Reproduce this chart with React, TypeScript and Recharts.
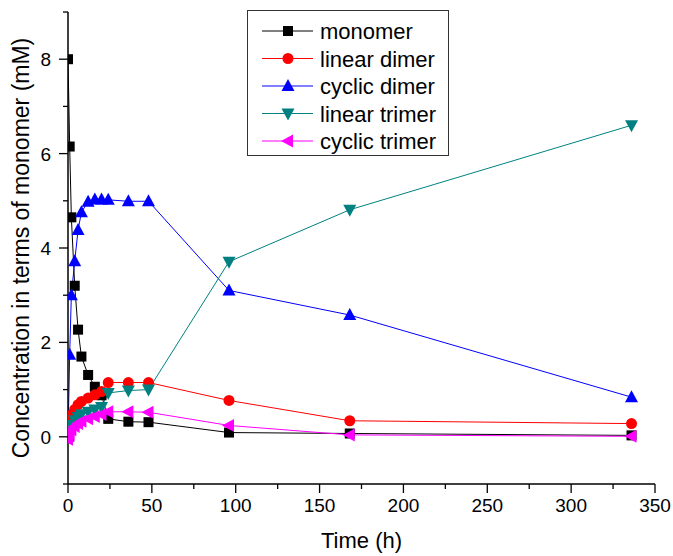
import React from 'react';
import { LineChart, Line, XAxis, YAxis, Legend } from 'recharts';

// sampling times (h)
const times = [0, 1, 2, 4, 6, 8, 12, 16, 20, 24, 36, 48, 96, 168, 336];

// concentrations in terms of monomer (mM)
const monomer = [8.0, 6.15, 4.65, 3.2, 2.27, 1.7, 1.31, 1.06, 0.88, 0.38, 0.32, 0.31, 0.09, 0.07, 0.03];
const linearDimer = [0, 0.3, 0.46, 0.58, 0.68, 0.75, 0.82, 0.89, 0.96, 1.15, 1.15, 1.15, 0.77, 0.34, 0.28];
const cyclicDimer = [0, 1.74, 3.0, 3.72, 4.38, 4.76, 4.98, 5.03, 5.03, 5.02, 4.99, 4.99, 3.1, 2.58, 0.84];
const linearTrimer = [0, 0.12, 0.25, 0.35, 0.42, 0.48, 0.53, 0.58, 0.63, 0.93, 0.98, 1.0, 3.71, 4.81, 6.6];
const cyclicTrimer = [-0.05, 0.05, 0.15, 0.22, 0.28, 0.33, 0.38, 0.43, 0.47, 0.53, 0.53, 0.52, 0.24, 0.04, 0.01];

const xTicks = [0, 25, 50, 75, 100, 125, 150, 175, 200, 225, 250, 275, 300, 325, 350];
const yTicks = [-1, 0, 1, 2, 3, 4, 5, 6, 7, 8, 9];

type Shape = 'square' | 'circle' | 'up' | 'down' | 'left';

const series: { key: string; name: string; color: string; shape: Shape; values: number[] }[] = [
  { key: 'monomer', name: 'monomer', color: '#000000', shape: 'square', values: monomer },
  { key: 'linearDimer', name: 'linear dimer', color: '#ff0000', shape: 'circle', values: linearDimer },
  { key: 'cyclicDimer', name: 'cyclic dimer', color: '#0000ff', shape: 'up', values: cyclicDimer },
  { key: 'linearTrimer', name: 'linear trimer', color: '#008080', shape: 'down', values: linearTrimer },
  { key: 'cyclicTrimer', name: 'cyclic trimer', color: '#ff00ff', shape: 'left', values: cyclicTrimer },
];

const data = times.map((t, i) => {
  const row: Record<string, number> = { t };
  series.forEach((s) => {
    row[s.key] = s.values[i];
  });
  return row;
});

const FONT = '"Liberation Sans", Arial, sans-serif';

const Marker = ({ cx, cy, shape, color }: { cx: number; cy: number; shape: Shape; color: string }) => {
  switch (shape) {
    case 'square':
      return <rect x={cx - 5} y={cy - 5} width={10} height={10} fill={color} />;
    case 'circle':
      return <circle cx={cx} cy={cy} r={5.5} fill={color} />;
    case 'up':
      return <polygon points={`${cx},${cy - 7} ${cx + 6.5},${cy + 5} ${cx - 6.5},${cy + 5}`} fill={color} />;
    case 'down':
      return <polygon points={`${cx},${cy + 7} ${cx + 6.5},${cy - 5} ${cx - 6.5},${cy - 5}`} fill={color} />;
    default:
      return <polygon points={`${cx - 7},${cy} ${cx + 5},${cy - 6.5} ${cx + 5},${cy + 6.5}`} fill={color} />;
  }
};

const XTick = (props: any) => {
  const { x, y, payload } = props;
  const major = payload.value % 50 === 0;
  return (
    <g>
      <line x1={x} y1={y} x2={x} y2={y + (major ? 9 : 5)} stroke="#000" strokeWidth={1.3} />
      {major && (
        <text x={x} y={y + 28} textAnchor="middle" fontSize={19} fontFamily={FONT} fill="#000">
          {payload.value}
        </text>
      )}
    </g>
  );
};

const YTick = (props: any) => {
  const { x, y, payload } = props;
  const major = payload.value % 2 === 0;
  return (
    <g>
      <line x1={x - (major ? 9 : 5)} y1={y} x2={x} y2={y} stroke="#000" strokeWidth={1.3} />
      {major && (
        <text x={x - 17} y={y + 7} textAnchor="end" fontSize={19} fontFamily={FONT} fill="#000">
          {payload.value}
        </text>
      )}
    </g>
  );
};

const LegendBox = () => (
  <svg width={202} height={146} style={{ display: 'block' }}>
    <rect x={0.5} y={0.5} width={201} height={145} fill="#fff" stroke="#333" />
    {series.map((s, i) => {
      const cy = 21 + i * 27.5;
      return (
        <g key={s.key}>
          <line x1={15} y1={cy} x2={66} y2={cy} stroke={s.color} strokeWidth={1} />
          <Marker cx={41} cy={cy} shape={s.shape} color={s.color} />
          <text x={73} y={cy + 8} fontSize={22} fontFamily={FONT} fill="#000">
            {s.name}
          </text>
        </g>
      );
    })}
  </svg>
);

export default function App() {
  return (
    <div style={{ position: 'absolute', left: 0, top: 0 }}>
      <LineChart width={673} height={556} data={data} margin={{ top: 12, right: 18, left: 0, bottom: 0 }}>
        <XAxis
          dataKey="t"
          type="number"
          domain={[0, 350]}
          ticks={xTicks}
          interval={0}
          allowDataOverflow
          height={72}
          tickSize={0}
          tickMargin={0}
          tickLine={false}
          tick={<XTick />}
          axisLine={{ stroke: '#000', strokeWidth: 1.5 }}
          label={(p: any) => {
            const vb = p.viewBox;
            return (
              <text x={vb.x + vb.width / 2} y={vb.y + 64} textAnchor="middle" fontSize={22} fontFamily={FONT} fill="#000">
                Time (h)
              </text>
            );
          }}
        />
        <YAxis
          type="number"
          domain={[-1, 9]}
          ticks={yTicks}
          interval={0}
          allowDataOverflow
          width={68}
          tickSize={0}
          tickMargin={0}
          tickLine={false}
          tick={<YTick />}
          axisLine={{ stroke: '#000', strokeWidth: 1.5 }}
          label={(p: any) => {
            const vb = p.viewBox;
            const cx = vb.x + 21;
            const cy = vb.y + vb.height / 2;
            return (
              <text
                x={cx}
                y={cy}
                transform={`rotate(-90, ${cx}, ${cy})`}
                textAnchor="middle"
                dominantBaseline="central"
                fontSize={23}
                fontFamily={FONT}
                fill="#000"
              >
                Concentration in terms of monomer (mM)
              </text>
            );
          }}
        />
        <Legend
          layout="vertical"
          align="center"
          verticalAlign="middle"
          wrapperStyle={{ left: 247, top: 10, width: 202, height: 146 }}
          content={() => <LegendBox />}
        />
        {series.map((s) => (
          <Line
            key={s.key}
            type="linear"
            dataKey={s.key}
            name={s.name}
            stroke={s.color}
            strokeWidth={1}
            isAnimationActive={false}
            activeDot={false}
            dot={(p: any) => (
              <Marker key={`${s.key}-${p.index}`} cx={p.cx} cy={p.cy} shape={s.shape} color={s.color} />
            )}
          />
        ))}
      </LineChart>
    </div>
  );
}
